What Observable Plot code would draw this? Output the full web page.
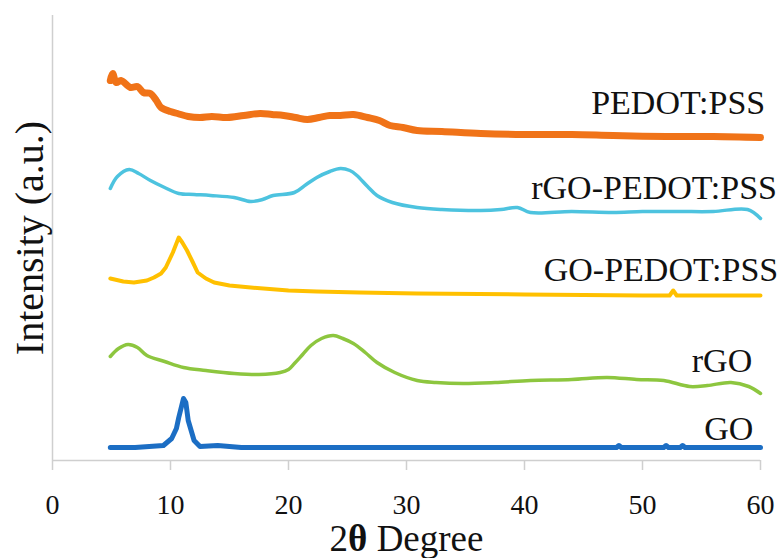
<!DOCTYPE html>
<html>
<head>
<meta charset="utf-8">
<script src="https://cdn.jsdelivr.net/npm/d3@7"></script>
<script src="https://cdn.jsdelivr.net/npm/@observablehq/plot@0.6"></script>
<style>
  html, body { margin: 0; padding: 0; background: #fff; }
  #chart { width: 781px; height: 558px; overflow: hidden; }
</style>
</head>
<body>
<div id="chart"></div>
<script>
// ---- Data (2θ in degrees, intensity in arbitrary units, stacked with offsets) ----
const seriesNames = ["PEDOT:PSS", "rGO-PEDOT:PSS", "GO-PEDOT:PSS", "rGO", "GO"];
const seriesColors = ["#F07318", "#4DC3DF", "#FFC000", "#8DC63F", "#1C6EC4"];
const xTicks = [0, 10, 20, 30, 40, 50, 60];

const pedotpss = [
  [4.9,380],[5.1,387],[5.4,378],[5.8,380],[6.6,373],[7.2,374],[7.7,368],[8.3,367],[8.8,360],
  [9.2,353],[10.0,349],[10.6,347],[11.5,344],[12.5,343],[13.5,344],[14.8,343],[16.2,345],
  [17.6,347],[18.6,346],[19.6,345],[20.6,343],[21.6,341],[22.6,343],[23.5,345],[24.4,345],
  [25.5,346],[26.7,343],[27.7,340],[28.6,335],[29.7,333],[30.9,330],[33,329],[36.3,327],
  [40,326],[44,326],[47.5,325],[52,324],[56,324],[60,323]
];
const rgoPedot = [
  [4.9,272],[5.5,284],[6.5,291],[7.3,287],[8.3,280],[9.5,273],[10.7,267],[12,266],[13.4,265],
  [15.4,263],[16.8,259],[17.8,261],[18.7,265],[20.5,268],[21.5,276],[22.4,283],[23.5,289],
  [24.4,292],[25.2,290],[25.8,285],[26.7,274],[27.5,265],[28.8,258],[30.9,253],[33,251],
  [36.3,250],[38,251],[39.4,253],[40.5,248],[44,249],[47.5,248],[50,249],[53.2,249],[56,249],
  [58.9,251],[60,242]
];
const goPedot = [
  [4.9,182],[6,179],[6.9,178],[8,180],[8.6,183],[9.2,187],[9.6,193],[10.2,208],[10.7,223],
  [11.0,218],[11.4,210],[11.9,198],[12.3,188],[13.0,182],[13.7,178],[15,175],[16.8,173],
  [20,170],[22.4,169],[26,168],[30.9,167],[40,166],[50,165],[52.3,165],[52.6,170],[52.9,165],
  [56,165],[60,165]
];
const rgo = [
  [4.9,104],[5.6,112],[6.4,116],[7.2,113],[8,105],[9.5,99],[11.1,93],[13,90],[15.4,87],
  [17.5,86],[19.3,88],[20,91],[20.5,97],[21.2,106],[21.9,115],[22.8,122],[23.8,125],[24.6,122],
  [25.5,117],[26.5,108],[27.5,98],[29,88],[30.9,80],[32.5,78],[34.8,77],[37.5,78],[40.5,80],
  [44,81],[47,83],[49.5,81],[51.8,80],[54,74],[55.5,75],[57.5,78],[59,74],[60,67]
];
const go = [
  [4.9,13],[7,13],[9.4,15],[10.1,22],[10.5,32],[10.7,43],[11.1,62],[11.3,58],[11.5,40],
  [12.0,20],[12.5,14],[14,15],[16,13],[20,13],[30,13],[40,13],[47.8,13],[48.0,15],[48.2,13],
  [51.8,13],[52.0,15],[52.2,13],[53.2,13],[53.4,15],[53.6,13],[60,13]
];

// label anchor points (data coordinates)
const labelX = [60.4, 61.4, 61.5, 59.3, 59.4];
const labelY = [357, 272, 190, 99, 31];

const seriesData = [pedotpss, rgoPedot, goPedot, rgo, go];
const widths = [7, 3.5, 4, 3.5, 5];
const curves = ["catmull-rom", "catmull-rom", "linear", "catmull-rom", "linear"];

const axisGray = "#cfcfcf";
const font = "'Liberation Serif', 'Times New Roman', serif";

const lineMarks = seriesData.map((s, i) =>
  Plot.line(s, {
    x: d => d[0], y: d => d[1],
    stroke: seriesColors[i], strokeWidth: widths[i],
    curve: curves[i], strokeLinejoin: "round", strokeLinecap: "round"
  })
);

const chart = Plot.plot({
  width: 781,
  height: 558,
  marginLeft: 52,
  marginRight: 21,
  marginTop: 15,
  marginBottom: 98,
  style: { fontFamily: font, background: "#fff", color: "#111" },
  x: { domain: [0, 60] },
  y: { domain: [0, 445] },
  marks: [
    Plot.ruleX([0], { stroke: axisGray, strokeWidth: 1.5 }),
    Plot.ruleY([0], { stroke: axisGray, strokeWidth: 1.5 }),
    Plot.axisX(xTicks, {
      tickSize: 10, tickPadding: 24, fontSize: 28,
      stroke: axisGray, strokeWidth: 1.5, fill: "#111", label: null
    }),
    Plot.axisY({ ticks: [], label: null }),
    ...lineMarks,
    Plot.text(seriesNames, {
      x: labelX, y: labelY, text: d => d,
      textAnchor: "end", fontSize: 34, fill: "#111", clip: false
    }),
    Plot.text(["Intensity (a.u.)"], {
      frameAnchor: "left", textAnchor: "middle", dx: -22, rotate: -90, fontSize: 40, fill: "#111"
    }),
    Plot.text(["2θ Degree"], {
      frameAnchor: "bottom", dy: 90, fontSize: 37, fill: "#111"
    })
  ]
});

// make θ bold in the x-axis title
chart.querySelectorAll("text").forEach(t => {
  if (t.textContent === "2θ Degree") {
    const ns = "http://www.w3.org/2000/svg";
    t.textContent = "";
    const a = document.createElementNS(ns, "tspan"); a.textContent = "2";
    const b = document.createElementNS(ns, "tspan"); b.textContent = "θ"; b.setAttribute("font-weight", "bold");
    const c = document.createElementNS(ns, "tspan"); c.textContent = " Degree";
    t.appendChild(a); t.appendChild(b); t.appendChild(c);
  }
});

document.getElementById("chart").appendChild(chart);
</script>
</body>
</html>
